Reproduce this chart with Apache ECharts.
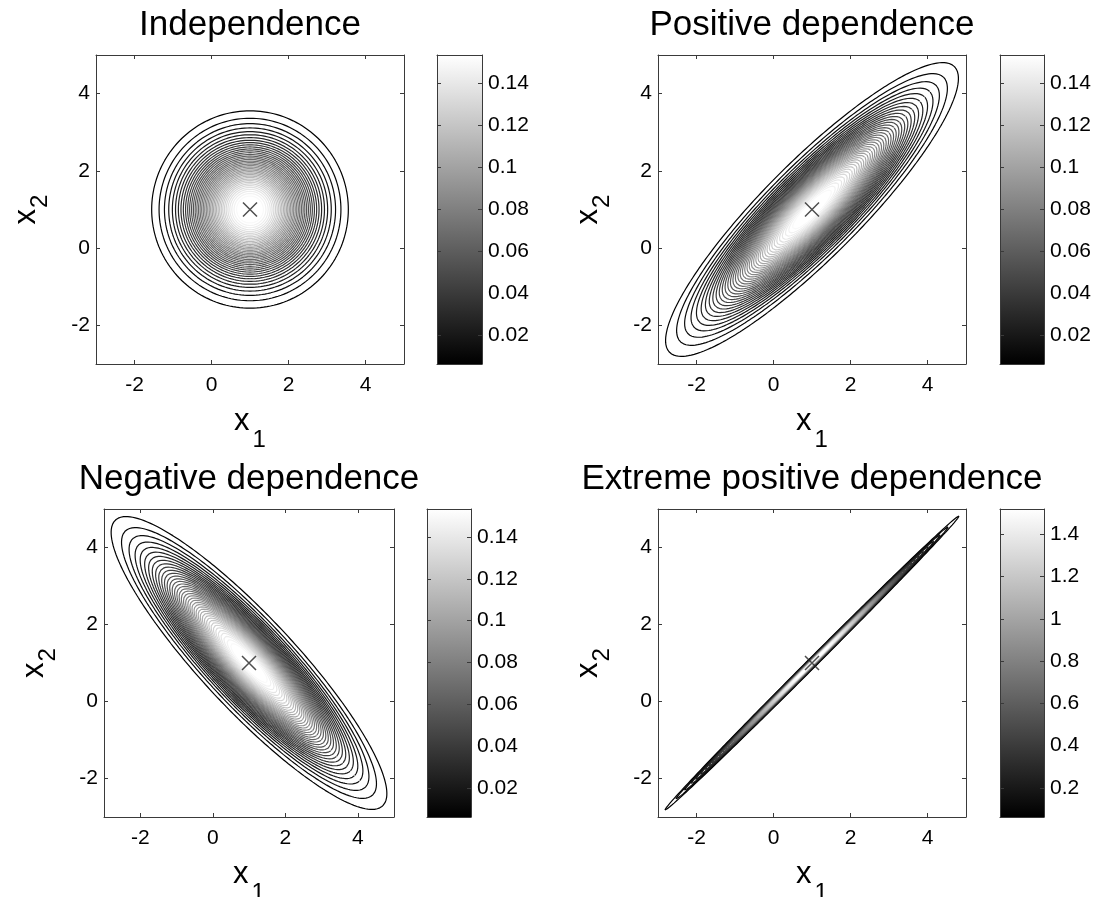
<!DOCTYPE html>
<html>
<head>
<meta charset="utf-8">
<script src="https://cdn.jsdelivr.net/npm/echarts@6/dist/echarts.min.js"></script>
<style>
  html, body { margin: 0; padding: 0; background: #fff; }
  #chart { width: 1109px; height: 897px; }
</style>
</head>
<body>
<div id="chart"></div>
<script>
// four panels, bivariate normal densities centred at (1, 1)
const titles = ['Independence', 'Positive dependence', 'Negative dependence', 'Extreme positive dependence'];
const meanX = 1;
const meanY = 1;
// covariance given as variance along the main axis, across it, and the axis angle
const majorVar = [1, 4.2, 4.2, 4.5];
const minorVar = [1, 0.24, 0.24, 0.00224];
const angleDeg = [0, 45, -45, 45];
// contour levels (lowest, highest, how many)
const levelLow = [0.0061, 0.0061, 0.0061, 0.062];
const levelHigh = [0.1534, 0.1534, 0.1534, 1.52];
const levelCount = [41, 41, 41, 41];
// tick labels
const axisTicks = [-2, 0, 2, 4];
const barTicks = [
  [0.02, 0.04, 0.06, 0.08, 0.1, 0.12, 0.14],
  [0.02, 0.04, 0.06, 0.08, 0.1, 0.12, 0.14],
  [0.02, 0.04, 0.06, 0.08, 0.1, 0.12, 0.14],
  [0.2, 0.4, 0.6, 0.8, 1, 1.2, 1.4]
];

// pixel layout of each panel
const boxes = [
  { left: 96, top: 55, width: 308, height: 309, cbLeft: 437, cbWidth: 45 },
  { left: 658, top: 55, width: 308, height: 309, cbLeft: 1000, cbWidth: 44 },
  { left: 104, top: 509, width: 290, height: 308, cbLeft: 427, cbWidth: 44 },
  { left: 658, top: 509, width: 308, height: 308, cbLeft: 1000, cbWidth: 44 }
];

const FONT = 'Liberation Sans, Arial, Helvetica, sans-serif';
const frame = '#3a3a3a';

function ellipse(i, level, peak) {
  const c = Math.sqrt(2 * Math.log(peak / level));
  const a = angleDeg[i] * Math.PI / 180;
  const s1 = Math.sqrt(majorVar[i]), s2 = Math.sqrt(minorVar[i]);
  const pts = [];
  for (let k = 0; k <= 360; k++) {
    const t = k * Math.PI / 180;
    const u = c * s1 * Math.cos(t), v = c * s2 * Math.sin(t);
    pts.push([meanX + u * Math.cos(a) - v * Math.sin(a), meanY + u * Math.sin(a) + v * Math.cos(a)]);
  }
  return pts;
}

function grayOf(t) {
  const g = Math.round(255 * Math.max(0, Math.min(1, t)));
  return 'rgb(' + g + ',' + g + ',' + g + ')';
}

function axisName(main, sub) {
  return '{m|' + main + '}{s|' + sub + '}';
}
const xNameRich = {
  m: { fontSize: 31, fontFamily: FONT, color: '#000', verticalAlign: 'top', lineHeight: 31 },
  s: { fontSize: 24, fontFamily: FONT, color: '#000', verticalAlign: 'top', padding: [22, 0, 0, 3], lineHeight: 24 }
};
const yNameRich = {
  m: { fontSize: 31, fontFamily: FONT, color: '#000', verticalAlign: 'top', lineHeight: 31 },
  s: { fontSize: 24, fontFamily: FONT, color: '#000', verticalAlign: 'top', padding: [17, 0, 0, 1], lineHeight: 24 }
};

const grid = [], xAxis = [], yAxis = [], series = [], title = [];

boxes.forEach((b, i) => {
  const gPlot = grid.length;
  grid.push({ left: b.left, top: b.top, width: b.width, height: b.height, containLabel: false, outerBoundsMode: 'none' });
  const gBar = grid.length;
  grid.push({ left: b.cbLeft, top: b.top, width: b.cbWidth, height: b.height, containLabel: false, outerBoundsMode: 'none' });

  title.push({
    text: titles[i], left: b.left + b.width / 2, top: b.top - 47, textAlign: 'center', padding: 0,
    textStyle: { fontSize: 35, fontWeight: 'normal', color: '#000', fontFamily: FONT }
  });

  const tickCommon = { show: true, inside: true, length: 4, lineStyle: { color: frame, width: 1 }, customValues: axisTicks };
  const lineCommon = { show: true, onZero: false, lineStyle: { color: frame, width: 1 } };

  // plot axes: bottom, top, left, right
  const xb = xAxis.length;
  xAxis.push({
    type: 'value', gridIndex: gPlot, position: 'bottom', min: -3, max: 5,
    axisLine: lineCommon, axisTick: tickCommon, splitLine: { show: false },
    axisLabel: { fontSize: 21, fontFamily: FONT, color: '#000', margin: 11, customValues: axisTicks },
    name: axisName('x', '1'), nameLocation: 'middle', nameGap: 42, nameTextStyle: { rich: xNameRich }
  });
  xAxis.push({
    type: 'value', gridIndex: gPlot, position: 'top', min: -3, max: 5,
    axisLine: lineCommon, axisTick: tickCommon, splitLine: { show: false }, axisLabel: { show: false }
  });
  const yl = yAxis.length;
  yAxis.push({
    type: 'value', gridIndex: gPlot, position: 'left', min: -3, max: 5,
    axisLine: lineCommon, axisTick: tickCommon, splitLine: { show: false },
    axisLabel: { fontSize: 21, fontFamily: FONT, color: '#000', margin: 6, customValues: axisTicks },
    name: axisName('x', '2'), nameLocation: 'middle', nameGap: 54, nameRotate: 90, nameTextStyle: { rich: yNameRich }
  });
  yAxis.push({
    type: 'value', gridIndex: gPlot, position: 'right', min: -3, max: 5,
    axisLine: lineCommon, axisTick: tickCommon, splitLine: { show: false }, axisLabel: { show: false }
  });

  // colour bar axes
  const cx = xAxis.length;
  xAxis.push({ type: 'value', gridIndex: gBar, position: 'bottom', min: 0, max: 1,
    axisLine: lineCommon, axisTick: { show: false }, axisLabel: { show: false }, splitLine: { show: false } });
  xAxis.push({ type: 'value', gridIndex: gBar, position: 'top', min: 0, max: 1,
    axisLine: lineCommon, axisTick: { show: false }, axisLabel: { show: false }, splitLine: { show: false } });
  const barTick = { show: true, inside: true, length: 4, lineStyle: { color: frame, width: 1 }, customValues: barTicks[i] };
  const cy = yAxis.length;
  yAxis.push({ type: 'value', gridIndex: gBar, position: 'right', min: levelLow[i], max: levelHigh[i],
    axisLine: lineCommon, axisTick: barTick, splitLine: { show: false },
    axisLabel: { fontSize: 21, fontFamily: FONT, color: '#000', margin: 6, customValues: barTicks[i] } });
  yAxis.push({ type: 'value', gridIndex: gBar, position: 'left', min: levelLow[i], max: levelHigh[i],
    axisLine: lineCommon, axisTick: barTick, splitLine: { show: false }, axisLabel: { show: false } });

  // colour bar gradient
  series.push({
    type: 'custom', xAxisIndex: cx, yAxisIndex: cy, z: -1, silent: true,
    data: [[0, levelLow[i], 1, levelHigh[i]]],
    encode: { x: [0, 2], y: [1, 3] },
    renderItem: (params, api) => {
      const p0 = api.coord([api.value(0), api.value(1)]);
      const p1 = api.coord([api.value(2), api.value(3)]);
      return {
        type: 'rect',
        shape: { x: p0[0], y: p1[1], width: p1[0] - p0[0], height: p0[1] - p1[1] },
        style: { fill: new echarts.graphic.LinearGradient(0, 0, 0, 1, [
          { offset: 0, color: '#ffffff' }, { offset: 1, color: '#000000' }]) }
      };
    }
  });

  // contour lines
  const peak = 1 / (2 * Math.PI * Math.sqrt(majorVar[i] * minorVar[i]));
  for (let k = 0; k < levelCount[i]; k++) {
    const lev = levelLow[i] + k * (levelHigh[i] - levelLow[i]) / (levelCount[i] - 1);
    if (lev >= peak) continue;
    series.push({
      type: 'line', xAxisIndex: xb, yAxisIndex: yl, data: ellipse(i, lev, peak),
      showSymbol: false, symbol: 'none', silent: true, clip: true, z: 2,
      lineStyle: { width: 1.2, color: grayOf((lev - levelLow[i]) / (levelHigh[i] - levelLow[i])) }
    });
  }

  // mean marker
  series.push({
    type: 'scatter', xAxisIndex: xb, yAxisIndex: yl, data: [[meanX, meanY]], z: 5, silent: true,
    symbol: 'path://M0,0L10,10M10,0L0,10', symbolSize: 14,
    itemStyle: { color: 'rgba(0,0,0,0)', borderColor: '#222', borderWidth: 1.5 }
  });
});

const chart = echarts.init(document.getElementById('chart'), null, { renderer: 'canvas' });
chart.setOption({
  backgroundColor: '#fff',
  animation: false,
  title, grid, xAxis, yAxis, series
});
</script>
</body>
</html>
